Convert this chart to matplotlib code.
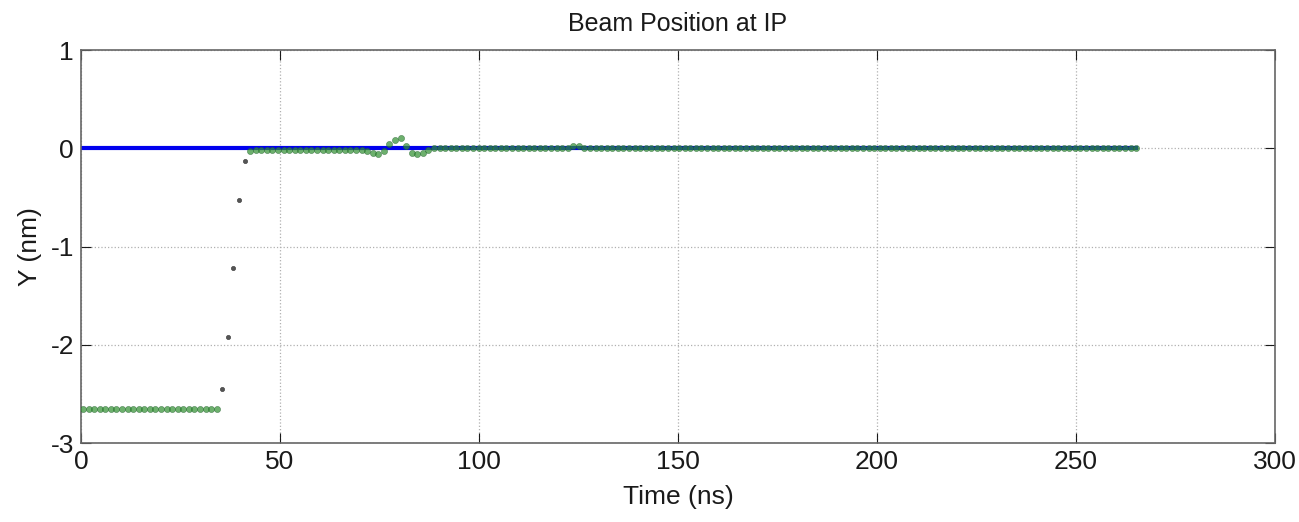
import numpy as np
import matplotlib.pyplot as plt

plt.rcParams['font.family'] = ['Liberation Sans', 'DejaVu Sans']
plt.rcParams['axes.unicode_minus'] = False

# bunch train: 190 bunches, 1.4 ns apart
bunch_spacing = 1.4
t_first = 0.5
n_bunch = 190

# vertical offset of each bunch at the IP (nm)
y_uncorrected = [-2.65] * 25
y_ramp = [-2.45, -1.92, -1.22, -0.53, -0.13]
y_settle = [-0.03] + [-0.02] * 20
y_wiggle = [-0.03, -0.05, -0.06, -0.03, 0.04, 0.08, 0.10, 0.02,
            -0.05, -0.06, -0.05, -0.02]
y_flat1 = [0.0] * 25
y_bump = [0.02, 0.02]
y_flat2 = [0.0] * (n_bunch - 25 - 5 - 21 - 12 - 25 - 2)

y_bunch = np.array(y_uncorrected + y_ramp + y_settle + y_wiggle
                   + y_flat1 + y_bump + y_flat2)
t_bunch = t_first + bunch_spacing * np.arange(n_bunch)

# nominal (zero) orbit
t_nominal = [0.0, t_bunch[-1]]
y_nominal = [0.0, 0.0]

fig = plt.figure(figsize=(12.99, 5.22), dpi=100)
ax = fig.add_axes([0.0624, 0.1513, 0.9191, 0.7529])

ax.plot(t_nominal, y_nominal, color='#0000ee', lw=3.0, zorder=2)

# isolated ramp bunches drawn darker, dense ones green
ramp = slice(25, 30)
mask = np.ones(n_bunch, bool)
mask[ramp] = False
ax.plot(t_bunch[mask], y_bunch[mask], ls='none', marker='o', ms=4.4,
        mfc='#2f8f2f', mec='#1f5f2a', mew=0.4, alpha=0.7, zorder=3)
ax.plot(t_bunch[ramp], y_bunch[ramp], ls='none', marker='o', ms=3.0,
        mfc='#555555', mec='#444444', mew=0.5, zorder=3)

ax.set_xlim(0, 300)
ax.set_ylim(-3, 1)
ax.set_xticks(np.arange(0, 301, 50))
ax.set_yticks(np.arange(-3, 1.1, 1))
ax.grid(True, ls=':', color='#b0b0b0', lw=0.9)
ax.tick_params(direction='in', top=True, right=True, length=7,
               labelsize=19, colors='#1a1a1a', pad=5)
for sp in ax.spines.values():
    sp.set_color('#666666')
    sp.set_linewidth(1.2)

ax.set_title('Beam Position at IP', fontsize=18, pad=14, color='#1a1a1a')
ax.set_xlabel('Time (ns)', fontsize=19, labelpad=8, color='#1a1a1a')
ax.set_ylabel('Y (nm)', fontsize=19, labelpad=6, color='#1a1a1a')

fig.savefig('out.png', dpi=100)
